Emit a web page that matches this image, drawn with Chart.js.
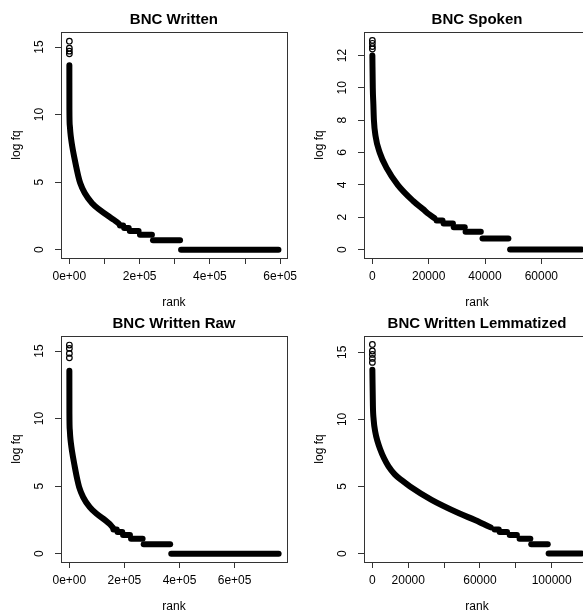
<!DOCTYPE html>
<html>
<head>
<meta charset="utf-8">
<script src="https://cdn.jsdelivr.net/npm/chart.js@4.4.1/dist/chart.umd.min.js"></script>
<style>
  html, body { margin: 0; padding: 0; background: #fff; }
  #wrap { position: relative; width: 583px; height: 616px; overflow: hidden; background: #fff; }
  canvas { position: absolute; }
</style>
</head>
<body>
<div id="wrap">
  <canvas id="c1" width="303" height="316" style="left:0;top:0"></canvas>
  <canvas id="c2" width="303" height="316" style="left:303px;top:0"></canvas>
  <canvas id="c3" width="303" height="316" style="left:0;top:304px"></canvas>
  <canvas id="c4" width="303" height="316" style="left:303px;top:304px"></canvas>
</div>
<script>
// ---- Data (rank, log frequency) ----
const writtenCurve = [[1,13.65],[150,10.4],[1200,9.2],[2800,8.7],[5000,8.2],[8500,7.6],[16600,6.5],[25600,5.42],[30800,4.93],[43700,4.19],[64600,3.44],[86500,2.95],[113000,2.45],[127000,2.2],[140000,1.95]];
const writtenSteps = [[1.792,144000,153000],[1.609,156000,169000],[1.386,172000,197000],[1.099,201000,235000],[0.693,238000,315000],[0,318000,595000]];
const writtenTop = [15.44,14.92,14.7,14.5];

const spokenCurve = [[1,12.0],[150,10],[350,9],[550,8],[1150,7],[2600,6],[5200,5],[9000,4],[14500,3],[18000,2.5],[20000,2.2],[22000,1.95]];
const spokenSteps = [[1.792,22800,24900],[1.609,25300,28600],[1.386,28900,32800],[1.099,33100,38500],[0.693,39100,48300],[0,48900,74300]];
const spokenTop = [12.93,12.75,12.55,12.4];

const rawCurve = [[1,13.55],[200,10.4],[1400,9.2],[3000,8.7],[5500,8.2],[9500,7.6],[19000,6.5],[29500,5.42],[35500,4.93],[50000,4.19],[74000,3.44],[99000,2.95],[132000,2.45],[146000,2.2],[157000,1.95]];
const rawSteps = [[1.792,160000,172000],[1.609,175000,192000],[1.386,195000,220000],[1.099,224000,266000],[0.693,270000,366000],[0,370000,760000]];
const rawTop = [15.45,15.2,14.83,14.5];

const lemmaCurve = [[1,13.7],[300,11],[700,10],[1700,9],[2800,8.4],[4300,7.8],[6500,7.1],[9000,6.5],[12500,5.9],[16500,5.45],[21000,5],[33000,4],[48300,3],[57200,2.5],[62000,2.2],[66000,1.95]];
const lemmaSteps = [[1.792,68200,70500],[1.609,71000,75100],[1.386,76600,80600],[1.099,82100,88100],[0.693,88600,97800],[0,98300,116700]];
const lemmaTop = [15.59,15.1,14.85,14.55,14.25];

// ---- Tick values and labels ----
const writtenXTicks = [0,100000,200000,300000,400000,500000,600000];
const writtenXLabels = ['0e+00','','2e+05','','4e+05','','6e+05'];
const spokenXTicks = [0,20000,40000,60000];
const spokenXLabels = ['0','20000','40000','60000'];
const rawXTicks = [0,200000,400000,600000];
const rawXLabels = ['0e+00','2e+05','4e+05','6e+05'];
const lemmaXTicks = [0,20000,40000,60000,80000,100000,120000];
const lemmaXLabels = ['0','20000','','60000','','100000',''];
const logYTicks = [0,5,10,15];
const spokenYTicks = [0,2,4,6,8,10,12];

const FONT = "'Liberation Sans', Arial, Helvetica, sans-serif";
const INK = '#000';
const AXIS = '#333';

const boxPlugin = {
  id: 'box',
  afterDraw(chart) {
    const {ctx, chartArea: a} = chart;
    ctx.save();
    ctx.strokeStyle = AXIS;
    ctx.lineWidth = 1;
    ctx.strokeRect(Math.round(a.left) + 0.5, Math.round(a.top) + 0.5, Math.round(a.right - a.left), Math.round(a.bottom - a.top));
    ctx.restore();
  }
};

function makeDatasets(curve, steps, top) {
  const lineStyle = {
    showLine: true, borderColor: INK, backgroundColor: INK, borderWidth: 6,
    borderCapStyle: 'round', borderJoinStyle: 'round', pointRadius: 0, fill: false
  };
  const ds = [];
  ds.push(Object.assign({ data: curve.map(([x, y]) => ({x, y})), cubicInterpolationMode: 'monotone' }, lineStyle));
  steps.forEach(([lvl, a, b]) => {
    ds.push(Object.assign({ data: [{x: a, y: lvl}, {x: b, y: lvl}] }, lineStyle));
  });
  ds.push({
    data: top.map((y, i) => ({x: i + 1, y})),
    showLine: false, pointRadius: 2.8, pointBorderWidth: 1.2,
    pointBorderColor: INK, pointBackgroundColor: 'rgba(0,0,0,0)'
  });
  return ds;
}

function makeChart(id, title, curve, steps, top, xr, yr, xTicks, xLabels, yTicks) {
  return new Chart(document.getElementById(id), {
    type: 'scatter',
    data: { datasets: makeDatasets(curve, steps, top) },
    options: {
      responsive: false, animation: false, devicePixelRatio: 1,
      layout: { padding: { left: 0, right: 16, top: 0, bottom: 0 } },
      plugins: {
        legend: { display: false },
        tooltip: { enabled: false },
        title: {
          display: true, text: title, fullSize: false, color: INK,
          font: { family: FONT, size: 15, weight: 'bold', lineHeight: 1.2 },
          padding: { top: 10.8, bottom: 3.2 }
        }
      },
      scales: {
        x: {
          type: 'linear', min: xr[0], max: xr[1],
          afterBuildTicks: s => { s.ticks = xTicks.map(v => ({value: v})); },
          afterFit: s => { s.height = 58; },
          ticks: {
            autoSkip: false, minRotation: 0, maxRotation: 0, padding: 5.5, color: INK,
            font: { family: FONT, size: 12 },
            callback: (v, i) => xLabels[i]
          },
          grid: { display: true, drawOnChartArea: false, drawTicks: true, tickLength: 6, color: AXIS, tickColor: AXIS },
          border: { display: false },
          title: { display: true, text: 'rank', color: INK, font: { family: FONT, size: 12 }, padding: { top: 0, bottom: 6.3 } }
        },
        y: {
          type: 'linear', min: yr[0], max: yr[1],
          afterBuildTicks: s => { s.ticks = yTicks.map(v => ({value: v})); },
          afterFit: s => { s.width = 61; },
          ticks: {
            autoSkip: false, minRotation: 90, maxRotation: 90, crossAlign: 'center', padding: 9, color: INK,
            font: { family: FONT, size: 12 },
            callback: v => String(v)
          },
          grid: { display: true, drawOnChartArea: false, drawTicks: true, tickLength: 6, color: AXIS, tickColor: AXIS },
          border: { display: false },
          title: { display: true, text: 'log fq', color: INK, font: { family: FONT, size: 12 }, padding: { top: 9.5, bottom: 0 } }
        }
      }
    },
    plugins: [boxPlugin]
  });
}

makeChart('c1', 'BNC Written', writtenCurve, writtenSteps, writtenTop, [-23800, 618800], [-0.62, 16.12], writtenXTicks, writtenXLabels, logYTicks);
makeChart('c2', 'BNC Spoken', spokenCurve, spokenSteps, spokenTop, [-2970, 77270], [-0.52, 13.45], spokenXTicks, spokenXLabels, spokenYTicks);
makeChart('c3', 'BNC Written Raw', rawCurve, rawSteps, rawTop, [-30400, 790400], [-0.62, 16.12], rawXTicks, rawXLabels, logYTicks);
makeChart('c4', 'BNC Written Lemmatized', lemmaCurve, lemmaSteps, lemmaTop, [-4668, 121370], [-0.63, 16.22], lemmaXTicks, lemmaXLabels, logYTicks);
</script>
</body>
</html>
